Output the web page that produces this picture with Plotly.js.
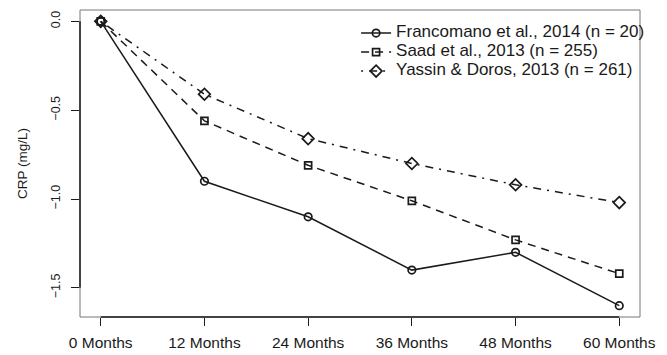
<!DOCTYPE html>
<html>
<head>
<meta charset="utf-8">
<script src="https://cdn.plot.ly/plotly-3.0.1.min.js"></script>
<style>html,body{margin:0;padding:0;background:#fff}#chart{width:667px;height:355px}</style>
</head>
<body>
<div id="chart"></div>
<script>
const months = [0, 12, 24, 36, 48, 60];
const monthLabels = ['0 Months', '12 Months', '24 Months', '36 Months', '48 Months', '60 Months'];
const francomano = [0, -0.90, -1.10, -1.40, -1.30, -1.60];
const saad = [0, -0.56, -0.81, -1.01, -1.23, -1.42];
const yassin = [0, -0.41, -0.66, -0.80, -0.92, -1.02];
const yTicks = [0, -0.5, -1.0, -1.5];
const seriesNames = ['Francomano et al., 2014 (n = 20)', 'Saad et al., 2013 (n = 255)', 'Yassin & Doros, 2013 (n = 261)'];

const ink = '#1a1a1a';
const fam = 'Liberation Sans, Arial, Helvetica, sans-serif';

function tr(y, name, dash, symbol, msize) {
  return {
    x: months, y: y, name: '<span style="font-size:17px">' + name + '</span>',
    type: 'scatter', mode: 'lines+markers',
    line: {color: ink, width: 1.5, dash: dash},
    marker: {symbol: symbol, size: msize, color: ink, line: {color: ink, width: 1.7}}
  };
}
const data = [
  tr(francomano, seriesNames[0], 'solid', 'circle-open', 7.5),
  tr(saad, seriesNames[1], '8px,6px', 'square-open', 7),
  tr(yassin, seriesNames[2], '2px,6px,8px,6px', 'diamond-open', 9)
];

const xr = [months[0] - 0.04 * (months[5] - months[0]), months[5] + 0.04 * (months[5] - months[0])];
const ymin = Math.min(...francomano), ymax = 0;
const yr = [ymin - 0.04 * (ymax - ymin), ymax + 0.04 * (ymax - ymin)];

const layout = {
  width: 667, height: 355,
  margin: {l: 80, r: 27, t: 10, b: 38},
  paper_bgcolor: '#fff', plot_bgcolor: '#fff',
  font: {family: fam, size: 13, color: ink},
  showlegend: true,
  legend: {x: 0.493, xanchor: 'left', y: 0.972, yanchor: 'top', bgcolor: 'rgba(0,0,0,0)',
           font: {family: fam, size: 10, color: ink}, tracegroupgap: 0},
  xaxis: {
    range: xr, tickvals: months, ticktext: monthLabels,
    showgrid: false, zeroline: false, showline: false,
    ticks: 'outside', ticklen: 8, tickwidth: 1, tickcolor: ink,
    tickfont: {family: fam, size: 15.5, color: ink},
    ticklabelstandoff: 3, fixedrange: true
  },
  yaxis: {
    range: yr, tickvals: yTicks, tickformat: '.1f', tickangle: -90,
    showgrid: false, zeroline: false, showline: false,
    ticks: 'outside', ticklen: 8, tickwidth: 1, tickcolor: ink,
    tickfont: {family: fam, size: 12.5, color: ink},
    ticklabelstandoff: 6,
    title: {text: 'CRP (mg/L)', font: {family: fam, size: 13.5, color: ink}, standoff: 18}, fixedrange: true
  },
  shapes: [
    {type: 'rect', xref: 'paper', yref: 'paper', x0: 0, x1: 1, y0: 0, y1: 1, line: {color: '#777', width: 1}},
    {type: 'line', xref: 'x', yref: 'paper', x0: months[0], x1: months[months.length - 1], y0: 0, y1: 0, line: {color: ink, width: 1.5}},
    {type: 'line', xref: 'paper', yref: 'y', x0: 0, x1: 0, y0: yTicks[0], y1: yTicks[yTicks.length - 1], line: {color: ink, width: 1.5}}
  ]
};
Plotly.newPlot('chart', data, layout, {displayModeBar: false, staticPlot: true});
</script>
</body>
</html>
